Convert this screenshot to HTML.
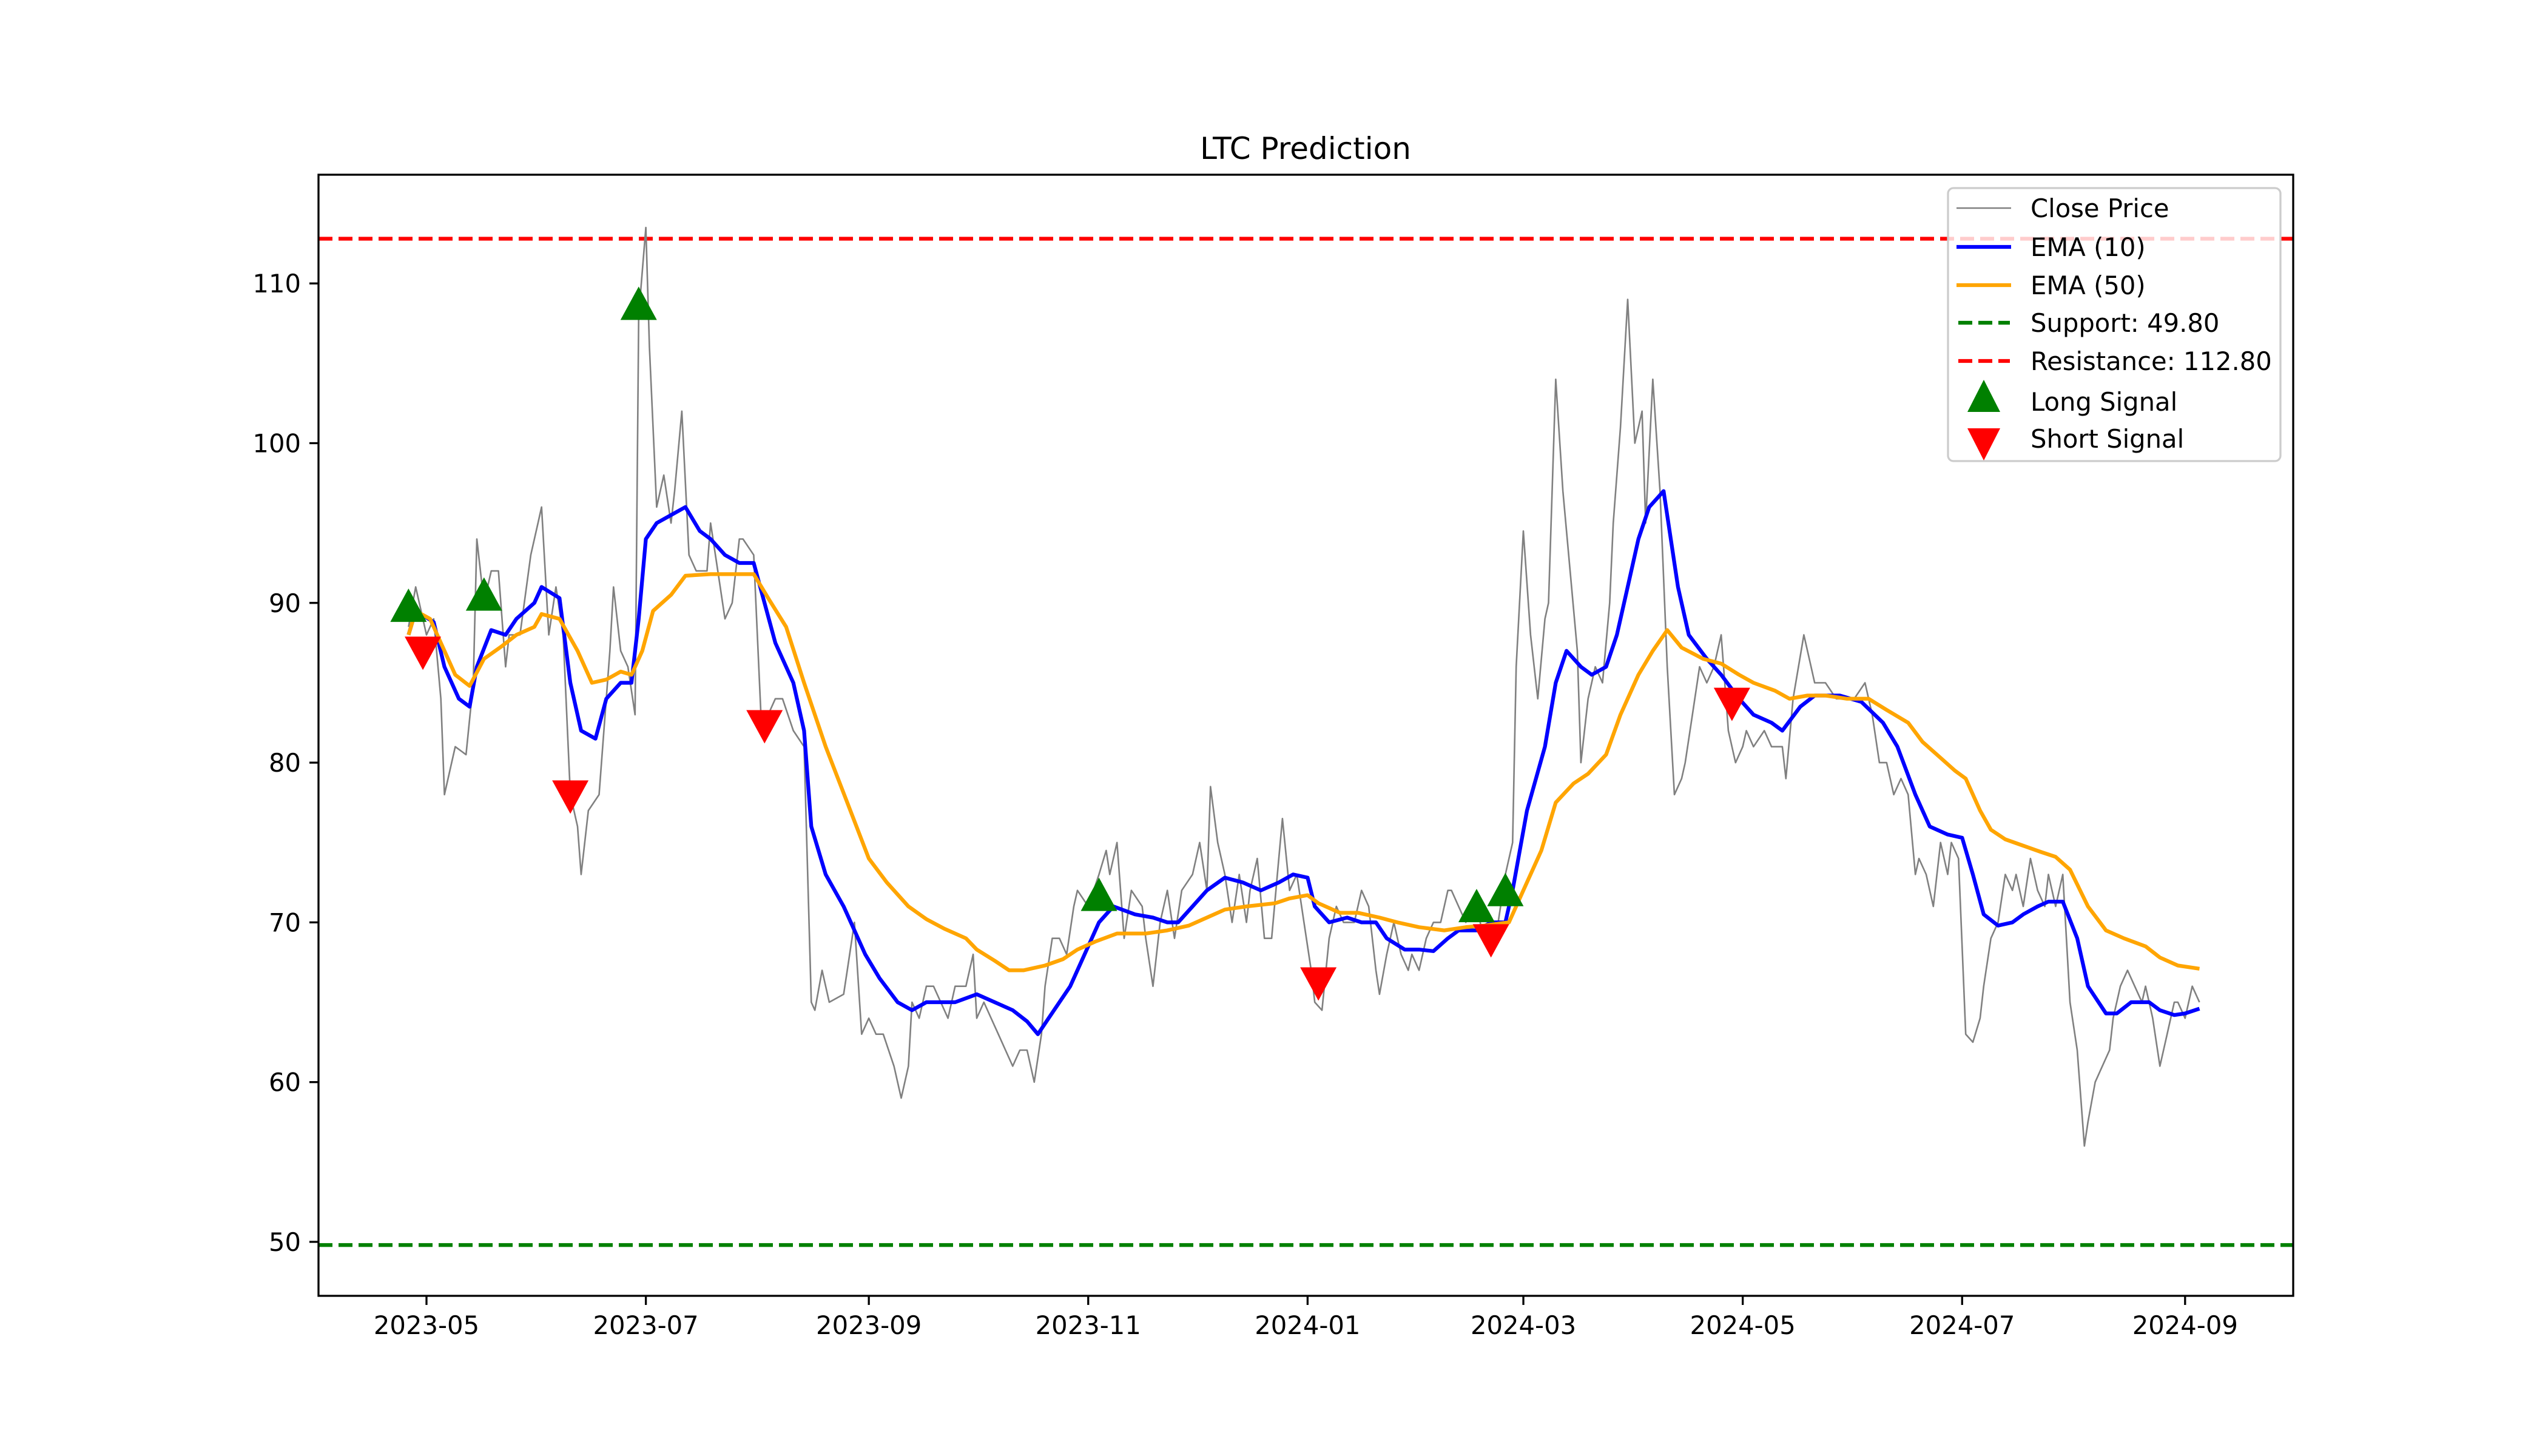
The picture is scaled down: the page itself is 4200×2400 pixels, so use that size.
<!DOCTYPE html>
<html><head><meta charset="utf-8"><style>
html,body{margin:0;padding:0;background:#fff;}
svg{display:block;font-family:"DejaVu Sans","Liberation Sans",sans-serif;}
</style></head><body>
<svg id="chart" width="4200" height="2400" viewBox="0 0 4200 2400" xmlns="http://www.w3.org/2000/svg">
<rect width="4200" height="2400" fill="#fff"/>
<text x="2152" y="262" font-size="50" text-anchor="middle" fill="#000">LTC Prediction</text>
<defs><clipPath id="plotclip"><rect x="525" y="288" width="3255" height="1848"/></clipPath></defs>
<g id="plot" clip-path="url(#plotclip)"></g>
<g id="axes"></g>
<g id="legend"></g>
</svg>
<script>
// ---- data (day offsets from 2023-04-26) ----
const closeDays = [0,2,5,7,9,10,13,16,18,19,21,23,25,27,28,31,34,36,37,39,41,43,45,47,48,50,53,56,57,59,61,63,64,66,67,69,71,73,74,76,78,80,83,84,86,88,90,92,93,96,98,100,102,104,107,110,112,113,115,117,121,122,124,126,128,130,132,135,137,139,140,142,144,146,148,150,152,155,157,158,160,162,164,166,168,170,172,174,176,177,179,181,183,185,186,189,192,194,195,197,199,201,204,205,207,209,211,213,215,218,220,222,223,225,227,229,231,233,234,236,238,240,242,243,245,247,249,251,252,254,256,258,260,261,263,265,267,269,270,272,274,276,278,279,281,283,285,287,289,290,292,294,296,298,299,301,303,305,307,308,310,312,314,316,317,319,321,323,325,326,328,330,332,334,335,337,339,341,343,344,346,348,350,352,354,355,357,359,361,363,365,367,369,371,372,374,377,379,382,383,385,388,390,391,394,397,400,402,405,407,409,411,413,415,417,419,420,422,424,426,428,429,431,433,435,437,438,440,442,444,446,447,449,451,453,455,456,458,460,462,464,466,467,469,471,473,474,476,478,480,482,483,485,487,489,491,492,494,496,498];
const closeValues = [88.5,91,88,89,84,78,81,80.5,85,94,90,92,92,86,88,88,93,95,96,88,91,88,78,76,73,77,78,87,91,87,86,83,108,113.5,106,96,98,95,97,102,93,92,92,95,92,89,90,94,94,93,83,83,84,84,82,81,65,64.5,67,65,65.5,67,70,63,64,63,63,61,59,61,65,64,66,66,65,64,66,66,68,64,65,64,63,62,61,62,62,60,63,66,69,69,68,71,72,71,73,74.5,73,75,69,72,71,69,66,70,72,69,72,73,75,72,78.5,75,73,70,73,70,72,74,69,69,74,76.5,72,73,70,67,65,64.5,69,71,70,70,70,72,71,67,65.5,68,70,68,67,68,67,69,70,70,72,72,71,70,71,70,69,70,70,73,75,86,94.5,88,84,89,90,104,97,92,87,80,84,86,85,90,95,101,109,100,102,95,104,97,86,78,79,80,83,86,85,86,88,82,80,81,82,81,82,81,81,79,84,88,86,85,85,84,84,84,85,83,80,80,78,79,78,73,74,73,71,75,73,75,74,63,62.5,64,66,69,70,73,72,73,71,74,72,71,73,71,73,65,62,56,57.5,60,61,62,64,66,67,66,65,66,64,61,63,65,65,64,66,65];
const ema10Days = [0,2,7,10,14,17,19,23,27,30,35,37,42,45,48,52,55,59,62,64,66,69,73,77,81,84,88,92,96,99,102,107,110,112,116,121,123,127,131,136,140,144,152,158,163,168,172,175,178,184,188,192,196,202,207,211,214,218,222,227,232,237,242,246,250,252,256,261,265,269,272,277,281,285,289,292,297,301,305,307,311,316,319,322,326,329,333,336,339,342,345,349,353,356,361,365,370,374,379,382,387,391,398,404,410,414,419,423,428,432,435,438,442,446,449,453,456,460,464,467,472,475,479,484,487,491,494,498];
const ema10Values = [88,89.5,88.8,86,84,83.5,86,88.3,88,89,90,91,90.3,85,82,81.5,84,85,85,89,94,95,95.5,96,94.5,94,93,92.5,92.5,90,87.5,85,82,76,73,71,70,68,66.5,65,64.5,65,65,65.5,65,64.5,63.8,63,64,66,68,70,71,70.5,70.3,70,70,71,72,72.8,72.5,72,72.5,73,72.8,71,70,70.3,70,70,69,68.3,68.3,68.2,69,69.5,69.5,70,70,72,77,81,85,87,86,85.5,86,88,91,94,96,97,91,88,86.5,85.5,84,83,82.5,82,83.5,84.2,84.2,83.8,82.5,81,78,76,75.5,75.3,73,70.5,69.8,70,70.5,71,71.3,71.3,69,66,64.3,64.3,65,65,64.5,64.2,64.3,64.6];
const ema50Days = [0,2,6,9,13,17,21,26,30,35,37,42,47,51,55,59,62,65,68,73,77,84,92,96,100,105,110,116,122,128,133,139,144,149,155,158,163,167,171,177,182,186,191,197,205,211,217,223,227,233,241,245,250,253,259,264,270,275,281,288,294,299,306,310,315,319,324,328,333,337,342,346,350,354,360,365,370,374,380,384,389,394,400,406,411,417,421,426,430,433,437,440,444,449,454,458,462,467,472,477,483,487,492,498];
const ema50Values = [88,89.5,89,87.5,85.5,84.8,86.5,87.3,88,88.5,89.3,89,87,85,85.2,85.7,85.5,87,89.5,90.5,91.7,91.8,91.8,91.8,90.3,88.5,85,81,77.5,74,72.5,71,70.2,69.6,69,68.3,67.6,67,67,67.3,67.7,68.3,68.8,69.3,69.3,69.5,69.8,70.4,70.8,71,71.2,71.5,71.7,71.2,70.6,70.6,70.3,70,69.7,69.5,69.7,69.8,70,72,74.5,77.5,78.7,79.3,80.5,83,85.5,87,88.3,87.2,86.5,86.2,85.5,85,84.5,84,84.2,84.2,84,84,83.3,82.5,81.3,80.3,79.5,79,77,75.8,75.2,74.8,74.4,74.1,73.3,71,69.5,69,68.5,67.8,67.3,67.1];
const longDays = [0,21,64,192,297,305];
const longValues = [89.8,90.5,108.7,71.7,71,72];
const shortDays = [4,45,99,253,301,368];
const shortValues = [86.9,77.9,82.3,66.2,68.9,83.7];
const supportLevel = 49.80;
const resistanceLevel = 112.80;
const yTicks = [50,60,70,80,90,100,110];
const xTickLabels = ["2023-05","2023-07","2023-09","2023-11","2024-01","2024-03","2024-05","2024-07","2024-09"];

// ---- axes functions ----
const NS = "http://www.w3.org/2000/svg";
const startMs = Date.UTC(2023,3,26);
const may1 = (Date.UTC(2023,4,1)-startMs)/86400000;
function xScale(d){ return 703 + (d - may1)*5.928; }
function yScale(v){ return 2047 - (v-50)*26.33; }
function el(tag, attrs, parent){
  const e = document.createElementNS(NS, tag);
  for (const k in attrs) e.setAttribute(k, attrs[k]);
  parent.appendChild(e); return e;
}
const plot = document.getElementById('plot');
const axes = document.getElementById('axes');
const legend = document.getElementById('legend');

function pathFrom(days, vals){
  return days.map((d,i)=>(i?'L':'M')+xScale(d).toFixed(1)+','+yScale(vals[i]).toFixed(1)).join(' ');
}
let sup = el('line',{x1:525,x2:3780,y1:yScale(supportLevel),y2:yScale(supportLevel),stroke:'#008000','stroke-width':6.25,'stroke-dasharray':'23 10'},plot);


let res = el('line',{x1:525,x2:3780,y1:yScale(resistanceLevel),y2:yScale(resistanceLevel),stroke:'#ff0000','stroke-width':6.25,'stroke-dasharray':'23 10'},plot);


let cl = el('path',{d:pathFrom(closeDays,closeValues),fill:'none',stroke:'#808080','stroke-width':2.6,'stroke-linejoin':'round'},plot);


let e10 = el('path',{d:pathFrom(ema10Days,ema10Values),fill:'none',stroke:'#0000ff','stroke-width':6.25,'stroke-linejoin':'round'},plot);


let e50 = el('path',{d:pathFrom(ema50Days,ema50Values),fill:'none',stroke:'#ffa500','stroke-width':6.25,'stroke-linejoin':'round'},plot);


longDays.forEach((d,i)=>{
  const x=xScale(d), y=yScale(longValues[i]);
  const m = el('polygon',{points:`${x-30},${y+26} ${x+30},${y+26} ${x},${y-29}`,fill:'#008000'},plot);
  
  
});
shortDays.forEach((d,i)=>{
  const x=xScale(d), y=yScale(shortValues[i]);
  const m = el('polygon',{points:`${x-30},${y-26} ${x+30},${y-26} ${x},${y+29}`,fill:'#ff0000'},plot);
  
  
});
let fr = el('rect',{x:525,y:288,width:3255,height:1848,fill:'none',stroke:'#000','stroke-width':3.3},axes);


yTicks.forEach(v=>{
  const y=yScale(v);
  el('line',{x1:510,x2:525,y1:y,y2:y,stroke:'#000','stroke-width':3.3},axes);
  const t = el('text',{x:496,y:y+15,'font-size':41.7,'text-anchor':'end',fill:'#000'},axes);
  t.textContent = v;
  
  
});
xTickLabels.forEach(lbl=>{
  const [yy,mm] = lbl.split('-').map(Number);
  const d = (Date.UTC(yy,mm-1,1)-startMs)/86400000;
  const x = xScale(d);
  el('line',{x1:x,x2:x,y1:2136,y2:2151,stroke:'#000','stroke-width':3.3},axes);
  const t = el('text',{x:x,y:2199,'font-size':41.7,'text-anchor':'middle',fill:'#000'},axes);
  t.textContent = lbl;
  
  
});
let lb = el('rect',{x:3211,y:310,width:548,height:450,rx:9,fill:'#fff','fill-opacity':0.8,stroke:'#cccccc','stroke-width':3.3},legend);


const legItems = [
  {label:'Close Price', kind:'line', color:'#808080', w:2.6},
  {label:'EMA (10)', kind:'line', color:'#0000ff', w:6.25},
  {label:'EMA (50)', kind:'line', color:'#ffa500', w:6.25},
  {label:'Support: 49.80', kind:'dash', color:'#008000', w:6.25},
  {label:'Resistance: 112.80', kind:'dash', color:'#ff0000', w:6.25},
  {label:'Long Signal', kind:'up', color:'#008000'},
  {label:'Short Signal', kind:'down', color:'#ff0000'}
];
const rowY = [343,407,470,532,595,662,723];
legItems.forEach((it,i)=>{
  const y = rowY[i];
  const g = el('g',{},legend);
  
  
  if (it.kind==='line') el('line',{x1:3225,x2:3315,y1:y,y2:y,stroke:it.color,'stroke-width':it.w},g);
  else if (it.kind==='dash') el('line',{x1:3228,x2:3313,y1:y,y2:y,stroke:it.color,'stroke-width':it.w,'stroke-dasharray':'23 10'},g);
  else if (it.kind==='up') el('polygon',{points:`3243,${y+17} 3297,${y+17} 3270,${y-36}`,fill:it.color},g);
  else el('polygon',{points:`3243,${y-17} 3297,${y-17} 3270,${y+36}`,fill:it.color},g);
  const t = el('text',{x:3347,y:y+15,'font-size':41.7,fill:'#000'},g);
  t.textContent = it.label;
});
</script>
</body></html>
